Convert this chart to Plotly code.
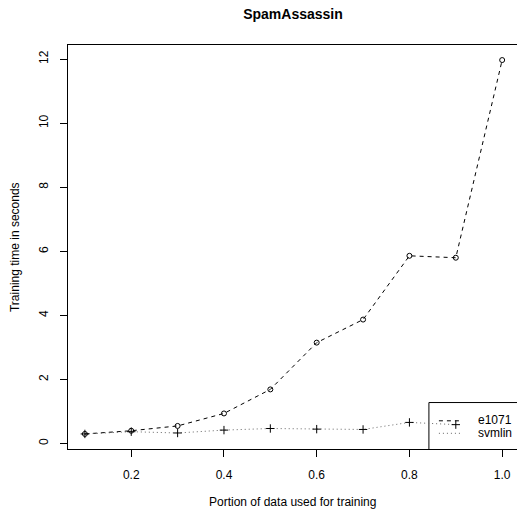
import plotly.graph_objects as go

portion = [0.1, 0.2, 0.3, 0.4, 0.5, 0.6, 0.7, 0.8, 0.9, 1.0]
e1071 = [0.30, 0.40, 0.55, 0.94, 1.69, 3.15, 3.87, 5.86, 5.80, 11.97]
svmlin = [0.30, 0.37, 0.33, 0.42, 0.47, 0.45, 0.44, 0.66, 0.59, None]
xtick_vals = [0.2, 0.4, 0.6, 0.8, 1.0]
xtick_text = ["0.2", "0.4", "0.6", "0.8", "1.0"]
ytick_vals = [0, 2, 4, 6, 8, 10, 12]
ytick_text = ["0", "2", "4", "6", "8", "10", "12"]
series_names = ["e1071", "svmlin"]

FONT = "Liberation Sans, Arial, Helvetica, sans-serif"
W, H = 517, 513

fig = go.Figure()
fig.add_trace(go.Scatter(
    x=portion, y=e1071, mode="lines+markers", name=series_names[0],
    line=dict(color="black", width=1, dash="4px,4px"),
    marker=dict(symbol="circle-open", size=5, color="black", line=dict(width=1, color="black")),
    showlegend=False))
fig.add_trace(go.Scatter(
    x=portion, y=svmlin, mode="lines+markers", name=series_names[1],
    line=dict(color="#666666", width=1, dash="1px,3px"),
    marker=dict(symbol="cross-thin", size=6, color="black", line=dict(width=1, color="black")),
    showlegend=False, connectgaps=False))

# R-style legend box (drawn beneath data)
shapes = [
    dict(type="rect", xref="x", yref="y", x0=0.842, x1=1.05, y0=-0.3, y1=1.28,
         line=dict(color="black", width=1), fillcolor="white", layer="below"),
    dict(type="line", xref="x", yref="y", x0=0.8636, x1=0.913, y0=0.71, y1=0.71,
         line=dict(color="black", width=1, dash="4px,4px"), layer="below"),
    dict(type="line", xref="x", yref="y", x0=0.8636, x1=0.913, y0=0.32, y1=0.32,
         line=dict(color="#666666", width=1, dash="1px,3px"), layer="below"),
]
annotations = [
    dict(x=0.9434, y=0.72, xref="x", yref="y", text=series_names[0], showarrow=False,
         xanchor="left", yanchor="middle", font=dict(family=FONT, size=12, color="black")),
    dict(x=0.9434, y=0.32, xref="x", yref="y", text=series_names[1], showarrow=False,
         xanchor="left", yanchor="middle", font=dict(family=FONT, size=12, color="black")),
    dict(x=0.501, y=-0.132, xref="paper", yref="paper", text="Portion of data used for training",
         showarrow=False, xanchor="center", yanchor="middle",
         font=dict(family=FONT, size=12, color="black")),
    dict(x=-0.118, y=0.5, xref="paper", yref="paper", text="Training time in seconds",
         showarrow=False, xanchor="center", yanchor="middle", textangle=-90,
         font=dict(family=FONT, size=12, color="black")),
]

fig.update_layout(
    width=W, height=H,
    margin=dict(l=68, r=0, t=45, b=64),
    paper_bgcolor="white", plot_bgcolor="white",
    font=dict(family=FONT, size=12, color="black"),
    title=dict(text="<b>SpamAssassin</b>", x=293 / W, xref="container", xanchor="center",
               y=1 - 14 / H, yref="container", yanchor="middle",
               font=dict(family=FONT, size=14, color="black")),
    shapes=shapes, annotations=annotations,
    xaxis=dict(range=[0.0636, 1.032], tickvals=xtick_vals, ticktext=xtick_text,
               showgrid=False, zeroline=False, showline=True, linecolor="black", linewidth=1,
               mirror=True, ticks="outside", ticklen=7, tickcolor="black", tickwidth=1,
               ticklabelstandoff=8, tickfont=dict(family=FONT, size=12, color="black")),
    yaxis=dict(range=[-0.17, 12.44], tickvals=ytick_vals, ticktext=ytick_text,
               showgrid=False, zeroline=False, showline=True, linecolor="black", linewidth=1,
               mirror=True, ticks="outside", ticklen=7, tickcolor="black", tickwidth=1,
               tickangle=-90, ticklabelstandoff=7,
               tickfont=dict(family=FONT, size=12, color="black")),
)

fig.write_html(
    "out.html",
    config={"displayModeBar": False},
    post_script="document.body.style.margin='0';document.body.style.overflow='hidden';"
                "document.documentElement.style.overflow='hidden';",
)
